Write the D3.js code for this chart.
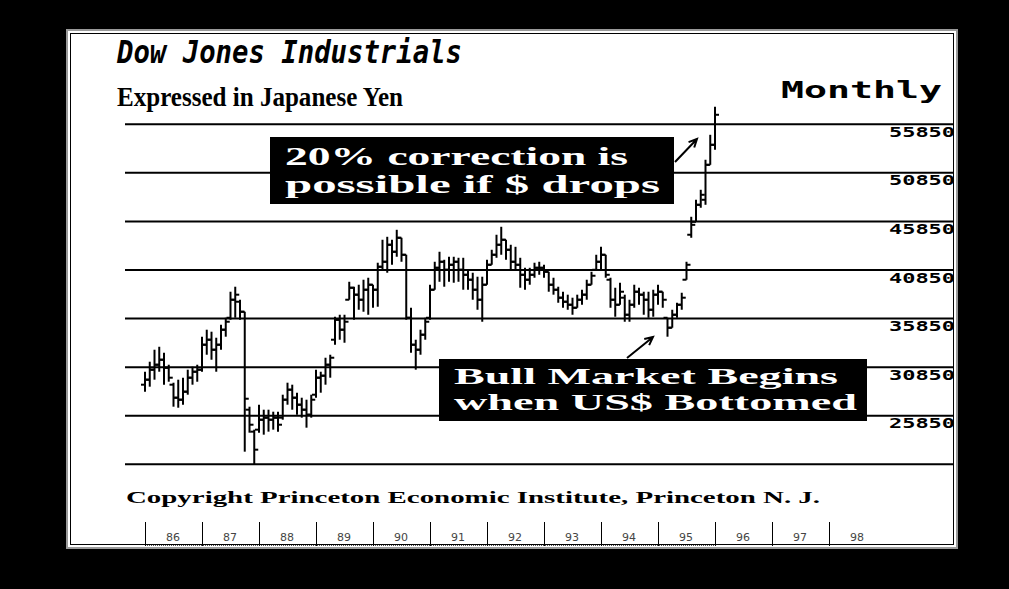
<!DOCTYPE html>
<html>
<head>
<meta charset="utf-8">
<script src="https://cdn.jsdelivr.net/npm/d3@7"></script>
<style>
  html, body { margin: 0; padding: 0; background: #000; }
  svg { display: block; }
</style>
</head>
<body>
<script>
// monthly bars, Jan 1986 .. Jan 1996 (Dow x Yen / 10)
const startYear = 1986;

const highs = [30380,31410,32645,32950,32335,31100,29250,29560,29765,30590,30895,31100,
  33985,34705,34500,33880,35220,35935,38615,39130,37790,36555,26780,24415,
  26985,26470,26470,26265,26265,28015,29250,29045,28220,27705,27500,28015,
  30590,30380,31820,32130,36040,36245,36245,39640,39130,39335,39850,40055,
  39335,41600,43965,44270,43965,44990,44170,42420,36965,33675,34705,35935,
  39335,41700,42730,41905,42215,42215,42110,42110,40875,40570,40160,40160,
  41905,42935,44480,45300,43965,43450,43240,42110,41080,41080,41600,41700,
  41390,40670,40055,39130,38615,38310,38000,38310,38820,39850,40670,42420,
  43240,42420,40055,39025,39540,38310,37790,39335,39025,38615,38615,38820,
  39335,38615,35935,36760,37480,38510,41700,46330,48080,49110,52200,54770,
  57650];

const lows = [28325,28840,29560,30380,29045,29350,26780,26675,26985,28015,29045,29350,
  30380,32130,31615,30380,32645,33985,35730,35935,35730,22150,24105,20810,
  24105,23900,24210,24415,24210,25440,26985,26470,25955,25650,24620,25650,
  27705,28220,29045,29765,33160,33675,33365,37790,35730,36760,36555,36245,
  36965,37070,40875,40570,41390,42215,41700,35730,32335,30590,32130,33675,
  35730,38820,39640,39130,39640,39540,39640,38820,38820,37790,36760,35525,
  39335,41390,42110,42420,41905,40875,40875,39025,38820,39335,40055,40360,
  40055,38615,38310,37480,36965,36760,36245,36965,37275,37790,39335,40875,
  40875,40055,36965,36040,37275,35525,35525,36965,37275,36245,35935,36040,
  37275,36965,33985,34910,35935,36760,39850,44170,45815,47260,47565,51680,
  53225];

const opens = [29045,29560,30590,31100,31615,30790,29045,27705,27500,28325,29765,30380,
  30590,33160,33675,32645,33160,34705,35935,37790,37585,36555,26470,24210,
  24415,25440,25650,25440,25650,25650,27500,28530,27705,26985,26470,25955,
  28015,29765,29970,31100,33675,35730,34705,37790,39025,38310,37790,38820,
  39335,38820,41185,41700,43450,42730,44170,42420,35935,33160,32645,34190,
  35935,38820,41080,41700,40875,41390,41700,40875,40360,39850,38820,37790,
  39335,41390,42420,43450,43965,42935,41700,41390,40360,39850,40360,41080,
  41080,40670,39335,38820,38000,37585,37275,36965,37790,38310,39335,40875,
  41700,42420,39850,37790,37275,38000,36245,37275,38615,38310,37790,36760,
  38310,38615,35935,34910,36245,37275,39850,44480,45815,47565,48080,51680,
  53740];

const closes = [29560,30590,31100,31615,30790,29765,27705,27500,28325,29765,30380,30590,
  33160,33675,32645,33160,34705,35525,37790,38310,36555,27600,24925,22355,
  25440,25650,25440,25650,24925,27500,28530,27705,26985,26470,25955,27500,
  29765,29970,31100,31820,35730,34705,35525,39025,38310,37790,38820,39335,
  38820,41185,41700,43450,42730,44170,42420,35935,33160,32645,34190,35525,
  38820,41080,41700,40875,41390,41700,40875,40360,39850,38820,37790,39335,
  41390,42420,43450,43965,42935,41700,41390,40360,39850,40360,41080,41080,
  40670,39335,38820,38000,37585,37275,36965,37790,38310,39335,40260,41700,
  42420,40360,37790,37275,38615,36245,37275,38615,38310,37790,36760,38310,
  38615,37790,34910,36245,37275,38000,41390,45500,47565,48595,51680,53740,
  56830];

const gridValues = [20850, 25850, 30850, 35850, 40850, 45850, 50850, 55850];
const labelValues = [25850, 30850, 35850, 40850, 45850, 50850, 55850];
const years = [1986,1987,1988,1989,1990,1991,1992,1993,1994,1995,1996,1997,1998];

const W = 1009, H = 589;
const svg = d3.select("body").append("svg")
  .attr("width", W).attr("height", H);

svg.append("rect").attr("width", W).attr("height", H).attr("fill", "#000");

// white panel with double frame
svg.append("rect").attr("x", 67).attr("y", 30).attr("width", 890).attr("height", 518)
  .attr("fill", "#fff").attr("stroke", "#9a9a9a").attr("stroke-width", 2);
svg.append("rect").attr("x", 70.5).attr("y", 33.5).attr("width", 883).attr("height", 511)
  .attr("fill", "none").attr("stroke", "#000").attr("stroke-width", 1);

const x = d3.scaleLinear().domain([1986, 1998]).range([145, 829]);
const y = d3.scaleLinear().domain([20850, 55850]).range([464.3, 124.3]);

// horizontal rules
svg.append("g").selectAll("line").data(gridValues).join("line")
  .attr("x1", 125).attr("x2", 953)
  .attr("y1", d => y(d)).attr("y2", d => y(d))
  .attr("stroke", "#000").attr("stroke-width", 2);

svg.append("g").selectAll("text").data(labelValues).join("text")
  .attr("x", 889).attr("y", d => y(d) + 12.5)
  .attr("textLength", 66).attr("lengthAdjust", "spacingAndGlyphs")
  .style("font-family", "DejaVu Sans Mono").style("font-weight", "bold")
  .style("font-size", "14px")
  .text(d => d);

// bars
const bars = highs.map((h, i) => ({ t: startYear + i / 12, h, l: lows[i], o: opens[i], c: closes[i] }));
const g = svg.append("g").attr("stroke", "#000").attr("stroke-width", 2);
g.selectAll(".hl").data(bars).join("line")
  .attr("x1", d => x(d.t)).attr("x2", d => x(d.t))
  .attr("y1", d => y(d.h)).attr("y2", d => y(d.l));
g.selectAll(".op").data(bars).join("line")
  .attr("x1", d => x(d.t) - 4).attr("x2", d => x(d.t))
  .attr("y1", d => y(d.o)).attr("y2", d => y(d.o));
g.selectAll(".cl").data(bars).join("line")
  .attr("x1", d => x(d.t)).attr("x2", d => x(d.t) + 4)
  .attr("y1", d => y(d.c)).attr("y2", d => y(d.c));

// titles
svg.append("text").attr("x", 117).attr("y", 63)
  .attr("textLength", 345).attr("lengthAdjust", "spacingAndGlyphs")
  .style("font-family", "DejaVu Sans Mono").style("font-style", "italic")
  .style("font-weight", "bold").style("font-size", "31px")
  .text("Dow Jones Industrials");
svg.append("text").attr("x", 117).attr("y", 106)
  .attr("textLength", 286).attr("lengthAdjust", "spacingAndGlyphs")
  .style("font-family", "Liberation Serif").style("font-weight", "bold")
  .style("font-size", "27px")
  .text("Expressed in Japanese Yen");
svg.append("text").attr("x", 781).attr("y", 98)
  .attr("textLength", 161).attr("lengthAdjust", "spacingAndGlyphs")
  .style("font-family", "DejaVu Sans Mono").style("font-weight", "bold")
  .style("font-size", "23px")
  .text("Monthly");

// annotations
function arrow(x1, y1, x2, y2) {
  const a = Math.atan2(y2 - y1, x2 - x1), s = 9;
  svg.append("path")
    .attr("d", `M${x1},${y1}L${x2},${y2}M${x2 - s * Math.cos(a - 0.45)},${y2 - s * Math.sin(a - 0.45)}L${x2},${y2}L${x2 - s * Math.cos(a + 0.45)},${y2 - s * Math.sin(a + 0.45)}`)
    .attr("fill", "none").attr("stroke", "#000").attr("stroke-width", 2);
}

function box(bx, by, bw, bh, size, lines) {
  svg.append("rect").attr("x", bx).attr("y", by).attr("width", bw).attr("height", bh).attr("fill", "#000");
  lines.forEach(l => {
    svg.append("text").attr("x", l.x).attr("y", l.y).attr("fill", "#fff")
      .attr("textLength", l.w).attr("lengthAdjust", "spacingAndGlyphs")
      .style("font-family", "Liberation Serif").style("font-weight", "bold")
      .style("font-size", size + "px")
      .text(l.text);
  });
}

box(270, 137, 404, 67, 25, [
  { text: "20% correction is", x: 285, y: 165, w: 343 },
  { text: "possible if $ drops", x: 285, y: 193, w: 375 }
]);
arrow(675, 162, 697, 139);

box(439, 359, 428, 62, 23, [
  { text: "Bull Market Begins", x: 454, y: 384, w: 384 },
  { text: "when US$ Bottomed", x: 454, y: 410, w: 403 }
]);
arrow(627, 358, 653, 337);

svg.append("text").attr("x", 126).attr("y", 503)
  .attr("textLength", 694).attr("lengthAdjust", "spacingAndGlyphs")
  .style("font-family", "Liberation Serif").style("font-weight", "bold")
  .style("font-size", "16px")
  .text("Copyright Princeton Economic Institute, Princeton N. J.");

// year scale at the bottom
svg.append("line").attr("x1", x(1986)).attr("x2", x(1996))
  .attr("y1", 545.5).attr("y2", 545.5)
  .attr("stroke", "#555").attr("stroke-width", 1).attr("stroke-dasharray", "1,1");
svg.append("g").selectAll("line").data(years).join("line")
  .attr("x1", d => x(d) + 0.5).attr("x2", d => x(d) + 0.5)
  .attr("y1", 522).attr("y2", 546)
  .attr("stroke", "#000").attr("stroke-width", 1);
svg.append("g").selectAll("text").data(years).join("text")
  .attr("x", d => x(d) + 28).attr("y", 541)
  .attr("text-anchor", "middle")
  .style("font-family", "DejaVu Sans").style("font-size", "11px").attr("fill", "#444")
  .text(d => String(d).slice(2));
</script>
</body>
</html>
